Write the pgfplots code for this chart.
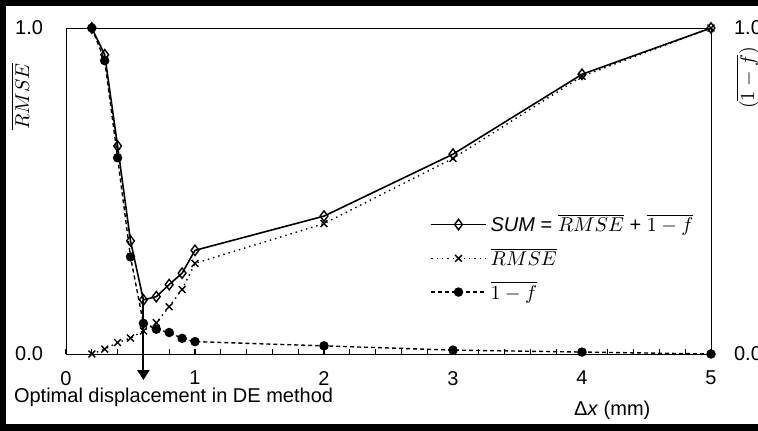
\documentclass[border=0pt]{standalone}
\usepackage{fontspec}
\setmainfont{Liberation Sans}
\usepackage{pgfplots}
\pgfplotsset{compat=1.18}
\usetikzlibrary{arrows.meta}

% 1 px of the reference = 0.5pt; axis origin sits at pixel (66,354)
\pgfplotstableread{
x     sum    rmse   onef
0.2   1.000  0.000  1.000
0.3   0.918  0.015  0.900
0.4   0.638  0.035  0.602
0.5   0.347  0.049  0.298
0.6   0.166  0.071  0.094
0.7   0.176  0.096  0.076
0.8   0.213  0.145  0.066
0.9   0.248  0.198  0.048
1.0   0.318  0.278  0.038
2.0   0.423  0.400  0.025
3.0   0.613  0.600  0.012
4.0   0.858  0.852  0.006
5.0   1.000  1.000  0.000
}\data

\begin{document}
\begin{tikzpicture}[font=\fontsize{10}{12}\selectfont]
\path[use as bounding box] (-33pt,-38pt) rectangle (346pt,177pt);
\clip (-33pt,-38pt) rectangle (346pt,177pt);
\begin{axis}[
  scale only axis, width=322.5pt, height=163pt,
  xmin=0, xmax=5, ymin=0, ymax=1,
  clip=false,
  axis line style={line width=0.5pt},
  xtick={0,1,2,3,4,5}, minor x tick num=4,
  xtick pos=left, tick align=inside,
  major tick length=2.5pt, minor tick length=2.5pt,
  tick style={black, line width=0.6pt},
  ytick={0,1}, yticklabels={0.0,1.0},
  ytick style={draw=none},
  /pgf/number format/assume math mode=true,
  xticklabel style={yshift=-5pt},
  yticklabel style={xshift=-8pt},
  ylabel={$\overline{RMSE}$},
  ylabel style={at={(axis description cs:-0.071,0.79)}, anchor=center, rotate=0},
  legend style={draw=none, fill=none, at={(0.555,0.455)}, anchor=north west,
    row sep=2.5pt, font=\fontsize{10}{12}\selectfont, cells={anchor=west}},
  legend image code/.code={
    \draw[mark repeat=2,mark phase=2,#1] plot coordinates {(0cm,0cm)(0.48cm,0cm)(0.96cm,0cm)};},
]
\addplot[black, line width=0.8pt, mark=diamond, mark size=2.6pt, mark options={solid, fill=white, line width=0.7pt}]
  table[x=x, y=sum] {\data};
\addlegendentry{\textit{SUM} = $\overline{RMSE}$ + $\overline{1-f}$}
\addplot[black, line width=0.7pt, dotted, mark=x, mark size=2.4pt, mark options={solid, line width=0.7pt}]
  table[x=x, y=rmse] {\data};
\addlegendentry{$\overline{RMSE}$}
\addplot[black, line width=0.7pt, dash pattern=on 2pt off 1.5pt, mark=*, mark size=2pt, mark options={solid}]
  table[x=x, y=onef] {\data};
\addlegendentry{$\overline{1-f}$}
\draw[line width=1pt, -{Triangle[length=5pt,width=6pt]}] (axis cs:0.6,0.166) -- (axis cs:0.6,-0.08);
\node[anchor=west] at (axis description cs:-0.0915,-0.132) {Optimal displacement in DE method};
\node at (axis description cs:0.847,-0.172) {Δ\textit{x} (mm)};
\end{axis}
\begin{axis}[
  scale only axis, width=322.5pt, height=163pt,
  xmin=0, xmax=5, ymin=0, ymax=1,
  hide x axis, axis y line*=right,
  axis line style={line width=0.5pt},
  ytick={0,1}, yticklabels={0.0,1.0},
  ytick style={draw=none},
  yticklabel style={xshift=8pt},
  every axis y label/.style={at={(axis description cs:1.057,0.847)}, rotate=90, anchor=center},
  ylabel={$(\overline{1-f})$},
]
\end{axis}
\draw[line width=6pt] (346pt,177pt) -- (-33pt,177pt) -- (-33pt,-38pt) -- (346pt,-38pt);
\end{tikzpicture}
\end{document}
